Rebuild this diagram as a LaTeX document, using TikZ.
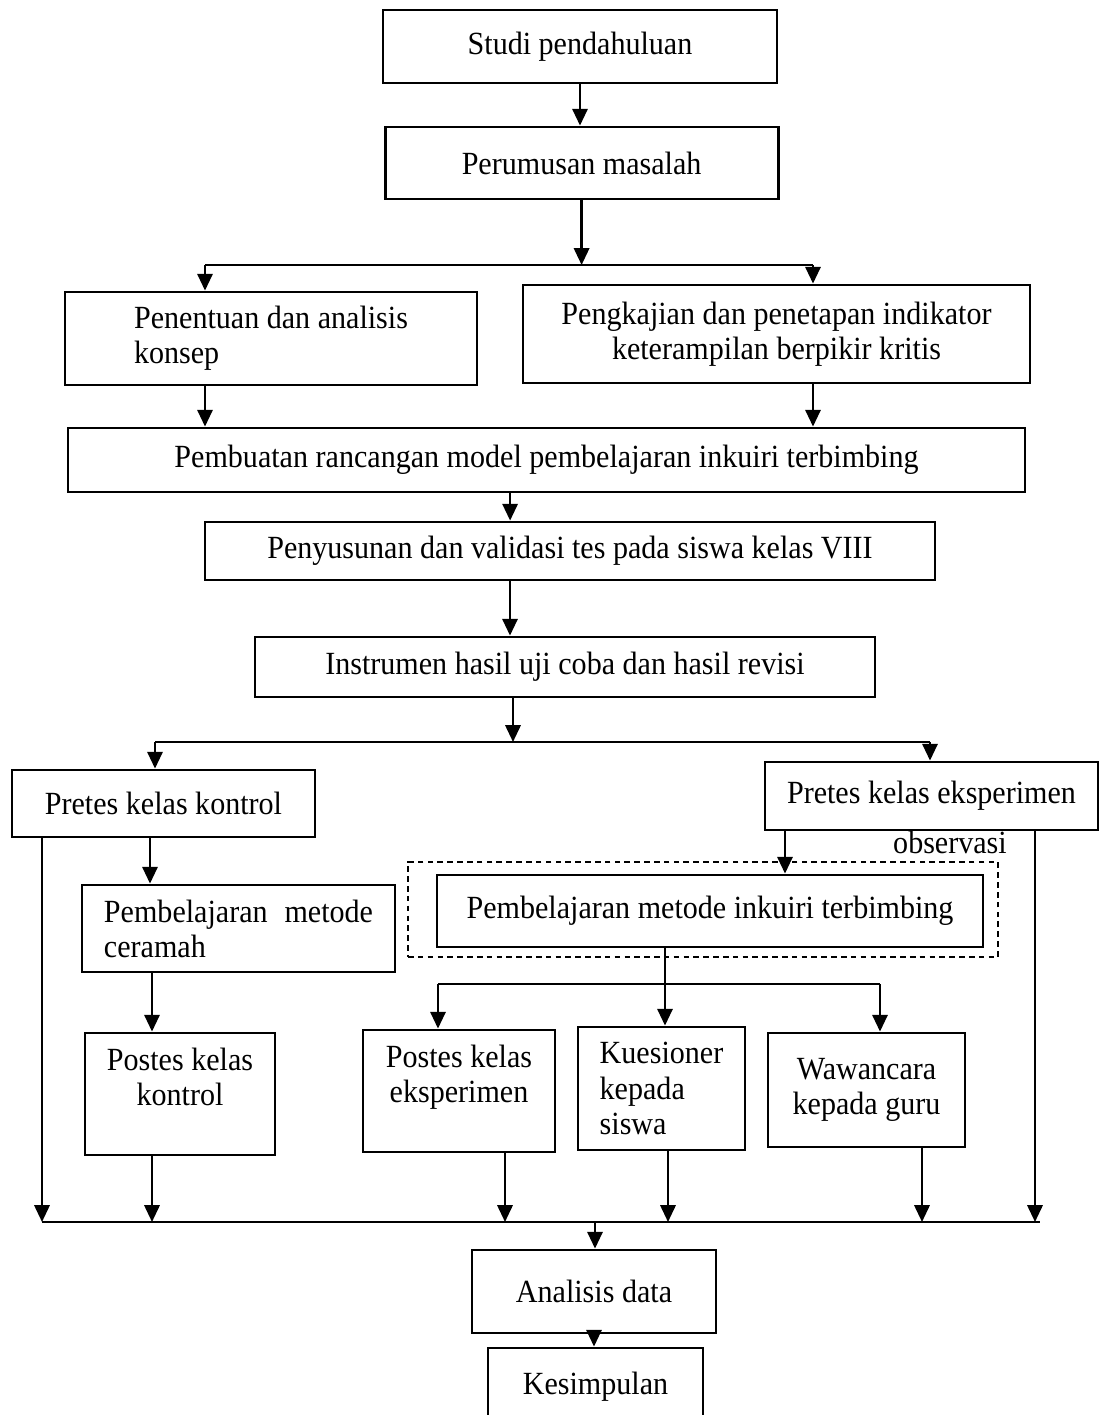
\documentclass[tikz,border=0pt]{standalone}
\usepackage{fontspec}
\setmainfont[FakeStretch=0.93]{Liberation Serif}
\usetikzlibrary{arrows.meta}
\tikzset{
  kotak/.style={draw, line width=2pt, inner sep=2pt, align=center, font=\fontsize{23}{25}\selectfont},
  panah/.style={-{Triangle[length=0.42cm,width=0.38cm]}, line width=1.8pt},
  garis/.style={line width=1.8pt},
  putus/.style={draw, line width=1.2pt, dash pattern=on 4pt off 3pt},
}
\begin{document}
\begin{tikzpicture}
\useasboundingbox (0,0) rectangle (27.5,-35.375);
% tahap awal
\node[kotak, minimum width=9.85cm, minimum height=1.825cm] (studi) at (14.5,-1.1625) {Studi pendahuluan};
\node[kotak, minimum width=9.825cm, minimum height=1.8cm] (rumus) at (14.54,-4.075) {Perumusan masalah};
\node[kotak, align=left, minimum width=10.3cm, minimum height=2.325cm] (konsep) at (6.775,-8.4625) {Penentuan dan analisis\\konsep};
\node[kotak, minimum width=12.675cm, minimum height=2.45cm] (indikator) at (19.4125,-8.35) {Pengkajian dan penetapan indikator\\keterampilan berpikir kritis};
\node[kotak, minimum width=23.925cm, minimum height=1.6cm] (rancang) at (13.6625,-11.5) {Pembuatan rancangan model pembelajaran inkuiri terbimbing};
\node[kotak, minimum width=18.25cm, minimum height=1.45cm] (susun) at (14.25,-13.775) {Penyusunan dan validasi tes pada siswa kelas VIII};
\node[kotak, minimum width=15.5cm, minimum height=1.5cm] (instrumen) at (14.125,-16.675) {Instrumen hasil uji coba dan hasil revisi};

\coordinate (kiri1) at (5.125,-6.625);
\coordinate (kanan1) at (20.325,-6.625);
\draw[panah] (studi.south) -- (studi.south |- rumus.north);
\draw[panah] (rumus.south) -- (rumus.south |- kiri1);
\draw[garis] (kiri1) -- (kanan1);
\draw[panah] (kiri1) -- (kiri1 |- konsep.north);
\draw[panah] (kanan1) -- (kanan1 |- indikator.north);
\draw[panah] (kiri1 |- konsep.south) -- (kiri1 |- rancang.north);
\draw[panah] (kanan1 |- indikator.south) -- (kanan1 |- rancang.north);
\coordinate (a1) at ([xshift=-0.91cm]rancang.south);
\draw[panah] (a1) -- (a1 |- susun.north);
\coordinate (a2) at ([xshift=-1.5cm]susun.south);
\draw[panah] (a2) -- (a2 |- instrumen.north);

% kelas kontrol dan eksperimen
\node[kotak, minimum width=7.575cm, minimum height=1.675cm] (pretesK) at (4.0875,-20.0875) {Pretes kelas kontrol};
\node[kotak, minimum width=8.325cm, minimum height=1.7cm] (pretesE) at (23.2875,-19.9) {Pretes kelas eksperimen};
\node[kotak, align=left, text width=6.725cm, inner xsep=0.55cm, minimum height=2.175cm] (ceramah) at (5.9625,-23.2125) {Pembelajaran\hfill metode\\ceramah};
\node[putus, minimum width=14.75cm, minimum height=2.375cm] (obs) at (17.575,-22.7375) {};
\node[font=\fontsize{23}{25}\selectfont, inner sep=0pt] (obslabel) at (23.75,-21.05) {observasi};
\node[kotak, minimum width=13.65cm, minimum height=1.8cm] (inkuiri) at (17.75,-22.775) {Pembelajaran metode inkuiri terbimbing};
\node[kotak, minimum width=4.75cm, minimum height=3.05cm] (postesK) at (4.5,-27.35) {Postes kelas\\kontrol\\\mbox{}};
\node[kotak, minimum width=4.8cm, minimum height=3.05cm] (postesE) at (11.475,-27.275) {Postes kelas\\eksperimen\\\mbox{}};
\node[kotak, align=left, minimum width=4.175cm, minimum height=3.075cm] (kuesioner) at (16.5375,-27.2125) {Kuesioner\\kepada\\siswa};
\node[kotak, minimum width=4.925cm, minimum height=2.85cm] (wawancara) at (21.6625,-27.25) {Wawancara\\kepada guru};

\coordinate (kiri2) at (3.875,-18.55);
\coordinate (kanan2) at (23.25,-18.55);
\coordinate (a3) at ([xshift=-1.3cm]instrumen.south);
\draw[panah] (a3) -- (a3 |- kiri2);
\draw[garis] (kiri2) -- (kanan2);
\draw[panah] (kiri2) -- (kiri2 |- pretesK.north);
\draw[panah] (kanan2) -- (kanan2 |- pretesE.north);
\coordinate (b1) at ([xshift=-0.3375cm]pretesK.south);
\draw[panah] (b1) -- (b1 |- ceramah.north);
\coordinate (b2) at ([xshift=-2.1625cm]ceramah.south);
\draw[panah] (b2) -- (b2 |- postesK.north);
\coordinate (c1) at ([xshift=-3.6625cm]pretesE.south);
\draw[panah] (c1) -- (c1 |- inkuiri.north);
\coordinate (kiri3) at (10.95,-24.6);
\coordinate (kanan3) at (22.0,-24.6);
\coordinate (c2) at ([xshift=-1.125cm]inkuiri.south);
\draw[garis] (c2) -- (c2 |- kiri3);
\draw[garis] (kiri3) -- (kanan3);
\draw[panah] (kiri3) -- (kiri3 |- postesE.north);
\draw[panah] (c2 |- kiri3) -- (c2 |- kuesioner.north);
\draw[panah] (kanan3) -- (kanan3 |- wawancara.north);

% penggabungan
\node[kotak, minimum width=6.1cm, minimum height=2.075cm] (analisis) at (14.85,-32.2875) {Analisis data};
\node[kotak, minimum width=5.375cm, minimum height=1.925cm] (simpul) at (14.8875,-34.6625) {Kesimpulan};

\coordinate (gabungL) at (1.05,-30.55);
\coordinate (gabungR) at (26.0,-30.55);
\coordinate (gabungT) at (14.875,-30.55);
\draw[garis] (gabungL) -- (gabungR);
\draw[panah] (gabungL |- pretesK.south) -- (gabungL);
\coordinate (d1) at ([xshift=-0.7cm]postesK.south);
\draw[panah] (d1) -- (d1 |- gabungL);
\coordinate (d2) at ([xshift=1.15cm]postesE.south);
\draw[panah] (d2) -- (d2 |- gabungL);
\coordinate (d3) at ([xshift=0.1625cm]kuesioner.south);
\draw[panah] (d3) -- (d3 |- gabungL);
\coordinate (d4) at ([xshift=1.3875cm]wawancara.south);
\draw[panah] (d4) -- (d4 |- gabungL);
\coordinate (d5) at ([xshift=2.5875cm]pretesE.south);
\draw[panah] (d5) -- (d5 |- gabungL);
\draw[panah] (gabungT) -- (gabungT |- analisis.north);
\draw[panah] (analisis.south) -- (analisis.south |- simpul.north);
\end{tikzpicture}
\end{document}
